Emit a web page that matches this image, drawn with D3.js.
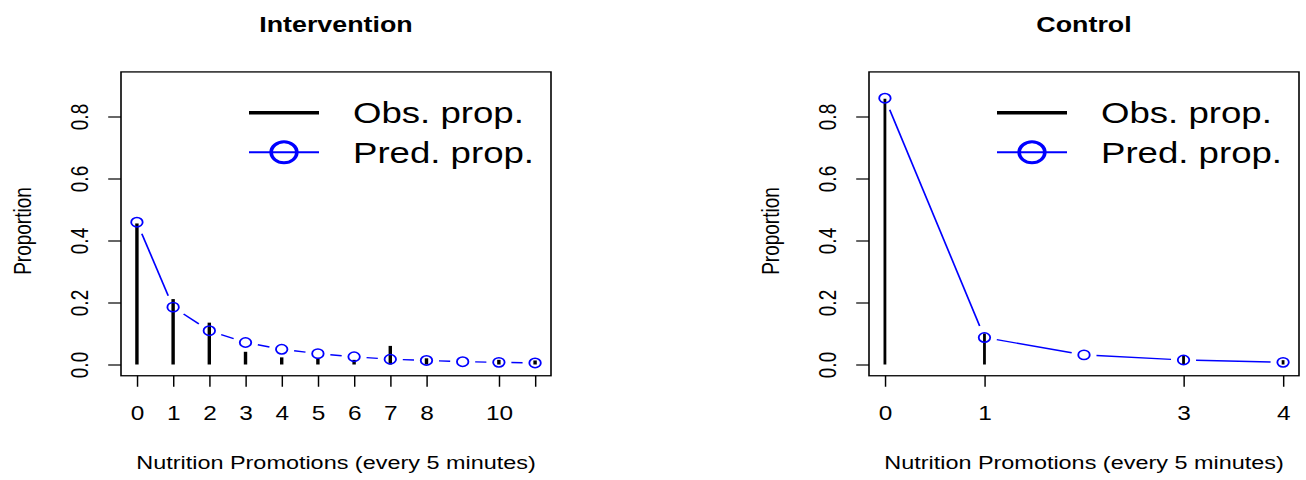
<!DOCTYPE html>
<html>
<head>
<meta charset="utf-8">
<script src="https://cdn.jsdelivr.net/npm/d3@7/dist/d3.min.js"></script>
<style>
html,body{margin:0;padding:0;background:#fff;}
svg{display:block;}
text{font-family:"Liberation Sans",Arial,Helvetica,sans-serif;fill:#000;}
</style>
</head>
<body>
<svg id="chart" width="1306" height="480" viewBox="0 0 1070.5 480" preserveAspectRatio="none"></svg>
<script>
// ---- data ----
const intObsX   = [0, 1, 2, 3, 4, 5, 6, 7, 8, 10, 11];
const intObs    = [0.455, 0.211, 0.135, 0.041, 0.023, 0.020, 0.015, 0.060, 0.020, 0.015, 0.013];
const intPredX  = [0, 1, 2, 3, 4, 5, 6, 7, 8, 9, 10, 11];
const intPred   = [0.459, 0.185, 0.109, 0.071, 0.049, 0.035, 0.025, 0.017, 0.013, 0.009, 0.007, 0.005];
const intTickLabels = ["0", "1", "2", "3", "4", "5", "6", "7", "8", "10", ""];

const ctrlObsX  = [0, 1, 3, 4];
const ctrlObs   = [0.857, 0.100, 0.029, 0.014];
const ctrlPredX = [0, 1, 2, 3, 4];
const ctrlPred  = [0.859, 0.087, 0.031, 0.0145, 0.007];
const ctrlTickLabels = ["0", "1", "3", "4"];

const yTicks = [0, 0.2, 0.4, 0.6, 0.8];
const yTickLabels = ["0.0", "0.2", "0.4", "0.6", "0.8"];
const titles = ["Intervention", "Control"];
const xTitle = "Nutrition Promotions (every 5 minutes)";
const yTitle = "Proportion";
const legendLabels = ["Obs. prop.", "Pred. prop."];

// ---- layout ----
const SX = 1306 / 1070.5; // horizontal device stretch
const svg = d3.select("#chart");
const yMax = 0.9075;
const y = d3.scaleLinear().domain([0, 0.8]).range([364.5, 116.5]);
const boxTop = y(yMax * 1.04), boxBot = y(-yMax * 0.04);

const panels = [
  {title: titles[0], obsX: intObsX, obs: intObs, predX: intPredX, pred: intPred,
   ticks: intObsX, tickLabels: intTickLabels, xmax: 11, range: [121 / SX, 551 / SX], stemW: 2.8},
  {title: titles[1], obsX: ctrlObsX, obs: ctrlObs, predX: ctrlPredX, pred: ctrlPred,
   ticks: ctrlObsX, tickLabels: ctrlTickLabels, xmax: 4, range: [869 / SX, 1299 / SX], stemW: 2.3}
];

panels.forEach(p => {
  const x = d3.scaleLinear().domain([-0.04 * p.xmax, 1.04 * p.xmax]).range(p.range);
  const g = svg.append("g");
  const L = p.range[0], R = p.range[1];

  // stems (observed)
  g.selectAll("line.stem").data(p.obsX.map((v, i) => ({x: v, y: p.obs[i]})))
    .enter().append("line")
    .attr("x1", d => x(d.x)).attr("x2", d => x(d.x))
    .attr("y1", y(0)).attr("y2", d => y(d.y))
    .attr("stroke", "#000").attr("stroke-width", p.stemW);

  // predicted: type "b" segments with gaps
  const pts = p.predX.map((v, i) => ({x: x(v), y: y(p.pred[i])}));
  const gap = 12.5; // device px
  for (let i = 0; i < pts.length - 1; i++) {
    const a = pts[i], b = pts[i + 1];
    const dxd = (b.x - a.x) * SX, dyd = b.y - a.y;
    const dist = Math.hypot(dxd, dyd);
    if (dist <= 2 * gap) continue;
    const f = gap / dist;
    g.append("line")
      .attr("x1", a.x + (b.x - a.x) * f).attr("y1", a.y + dyd * f)
      .attr("x2", b.x - (b.x - a.x) * f).attr("y2", b.y - dyd * f)
      .attr("stroke", "#0000ff").attr("stroke-width", 1.4);
  }
  g.selectAll("circle.pred").data(pts).enter().append("circle")
    .attr("cx", d => d.x).attr("cy", d => d.y).attr("r", 4.7)
    .attr("fill", "none").attr("stroke", "#0000ff").attr("stroke-width", 1.5);

  // box
  g.append("rect").attr("x", L).attr("y", boxTop).attr("width", R - L).attr("height", boxBot - boxTop)
    .attr("fill", "none").attr("stroke", "#000").attr("stroke-width", 1.3);

  // y axis
  const ya = g.append("g").attr("transform", `translate(${L},0)`)
    .call(d3.axisLeft(y).tickValues(yTicks).tickSize(10.5).tickFormat((d, i) => yTickLabels[i]));
  ya.select(".domain").remove();
  ya.selectAll(".tick line").attr("stroke", "#000").attr("stroke-width", 1.2);
  ya.selectAll(".tick text").attr("x", null).attr("dy", null)
    .attr("transform", `translate(${-41 / SX},0) rotate(-90)`)
    .attr("text-anchor", "middle").attr("dominant-baseline", "central")
    .attr("font-size", 19).attr("font-family", null).attr("fill", "#000");

  // x axis
  const xa = g.append("g").attr("transform", `translate(0,${boxBot})`)
    .call(d3.axisBottom(x).tickValues(p.ticks).tickSize(11).tickFormat((d, i) => p.tickLabels[i]));
  xa.select(".domain").remove();
  xa.selectAll(".tick line").attr("stroke", "#000").attr("stroke-width", 1.2);
  xa.selectAll(".tick text").attr("y", 413 - boxBot).attr("dy", null)
    .attr("dominant-baseline", "central")
    .attr("font-size", 20).attr("font-family", null).attr("fill", "#000");

  // titles
  g.append("text").attr("x", (L + R) / 2).attr("y", 24).attr("text-anchor", "middle")
    .attr("dominant-baseline", "central").attr("font-size", 22).attr("font-weight", "bold").text(p.title);
  g.append("text").attr("x", (L + R) / 2).attr("y", 463).attr("text-anchor", "middle")
    .attr("dominant-baseline", "central").attr("font-size", 19.2).text(xTitle);
  g.append("text").attr("transform", `translate(${L - 98 / SX},231) rotate(-90)`)
    .attr("text-anchor", "middle").attr("dominant-baseline", "central").attr("font-size", 19).text(yTitle);

  // legend
  const lx1 = L + 128 / SX, lx2 = L + 198 / SX, lc = L + 163 / SX, lt = L + 232 / SX;
  const ly1 = 112.7, ly2 = 152.3;
  g.append("line").attr("x1", lx1).attr("x2", lx2).attr("y1", ly1).attr("y2", ly1)
    .attr("stroke", "#000").attr("stroke-width", 3.6);
  g.append("line").attr("x1", lx1).attr("x2", lx2).attr("y1", ly2).attr("y2", ly2)
    .attr("stroke", "#0000ff").attr("stroke-width", 2);
  g.append("circle").attr("cx", lc).attr("cy", ly2).attr("r", 10.5)
    .attr("fill", "none").attr("stroke", "#0000ff").attr("stroke-width", 3);
  g.append("text").attr("x", lt).attr("y", ly1).attr("dominant-baseline", "central")
    .attr("font-size", 30).text(legendLabels[0]);
  g.append("text").attr("x", lt).attr("y", ly2).attr("dominant-baseline", "central")
    .attr("font-size", 30).text(legendLabels[1]);
});
</script>
</body>
</html>
